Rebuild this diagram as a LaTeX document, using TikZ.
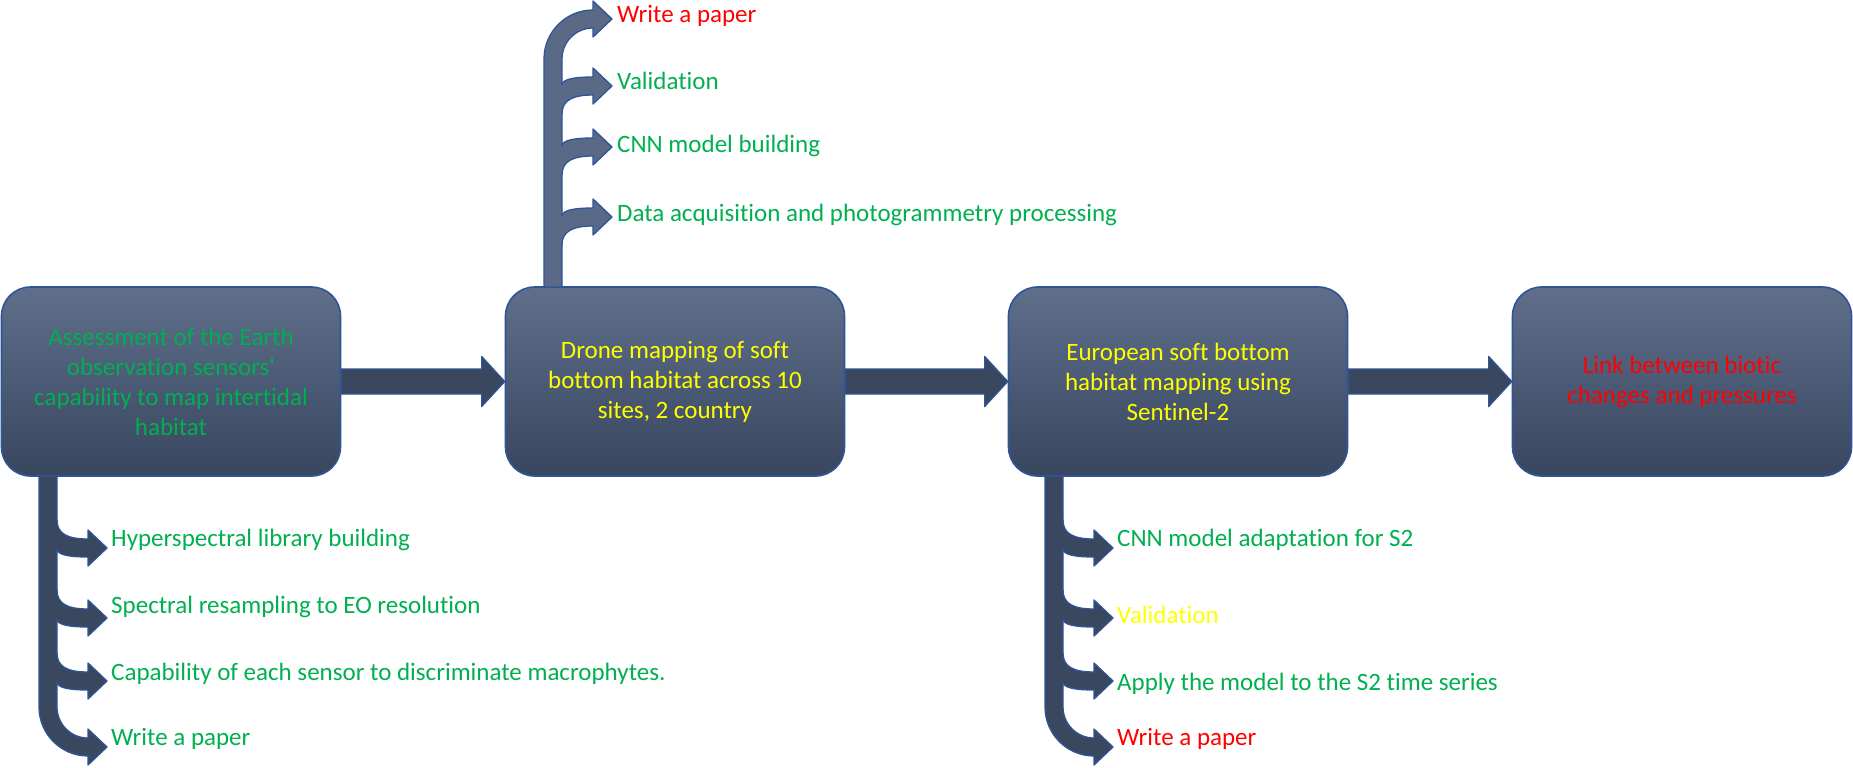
\documentclass[tikz,border=0pt]{standalone}
\usepackage{fontspec}
\setmainfont{Carlito}[Ligatures={TeX,NoCommon}]
\usetikzlibrary{calc}
\definecolor{gtxt}{HTML}{00B050}
\definecolor{ytxt}{HTML}{FFFF00}
\definecolor{rtxt}{HTML}{FF0000}
\definecolor{edgec}{HTML}{2F5597}
\definecolor{boxtop}{HTML}{5F6F8B}
\definecolor{boxbot}{HTML}{38465F}
\definecolor{darkarrow}{HTML}{39475F}
\definecolor{lightarrow}{HTML}{5A6A86}
\tikzset{
  stagebox/.style={draw=edgec, line width=1.6pt, rounded corners=29pt,
    minimum width=339pt, minimum height=189pt, top color=boxtop,
    bottom color=boxbot, align=center, inner sep=0pt,
    font=\fontsize{25}{30}\selectfont},
  lbl/.style={anchor=base west, inner sep=0pt, font=\fontsize{25}{30}\selectfont},
  edgeline/.style={draw=edgec, line width=1.3pt, line join=round},
  harrow/.style={fill=darkarrow, edgeline},
}
% #1 stem right x, #2 tip y, #3 fill colour
\newcommand\dnbranch[3]{%
  \fill[#3] ({#1-6},{#2-28}) -- (#1,{#2-28}) .. controls (#1,{#2-14}) and ({#1+11},{#2-9}) .. ({#1+31},{#2-9})
    -- ({#1+31},{#2-18}) -- ({#1+50},#2) -- ({#1+31},{#2+18}) -- ({#1+31},{#2+9})
    .. controls ({#1+13},{#2+9}) and (#1,{#2+7}) .. (#1,{#2+1}) -- ({#1-6},{#2+1}) -- cycle;
  \draw[edgeline] (#1,{#2-28}) .. controls (#1,{#2-14}) and ({#1+11},{#2-9}) .. ({#1+31},{#2-9})
    -- ({#1+31},{#2-18}) -- ({#1+50},#2) -- ({#1+31},{#2+18}) -- ({#1+31},{#2+9})
    .. controls ({#1+13},{#2+9}) and (#1,{#2+7}) .. (#1,{#2+1});}
\newcommand\upbranch[3]{%
  \fill[#3] ({#1-6},{#2+28}) -- (#1,{#2+28}) .. controls (#1,{#2+14}) and ({#1+11},{#2+9}) .. ({#1+31},{#2+9})
    -- ({#1+31},{#2+18}) -- ({#1+50},#2) -- ({#1+31},{#2-18}) -- ({#1+31},{#2-9})
    .. controls ({#1+13},{#2-9}) and (#1,{#2-7}) .. (#1,{#2-1}) -- ({#1-6},{#2-1}) -- cycle;
  \draw[edgeline] (#1,{#2+28}) .. controls (#1,{#2+14}) and ({#1+11},{#2+9}) .. ({#1+31},{#2+9})
    -- ({#1+31},{#2+18}) -- ({#1+50},#2) -- ({#1+31},{#2-18}) -- ({#1+31},{#2-9})
    .. controls ({#1+13},{#2-9}) and (#1,{#2-7}) .. (#1,{#2-1});}
% #1 stem right x, #2 stem start y, #3 final tip y, #4 fill colour
\newcommand\dnstem[4]{%
  \filldraw[fill=#4, edgeline] ({#1-18},#2) -- ({#1-18},{#3-40})
    .. controls ({#1-18},{#3-13}) and ({#1+4},{#3+9}) .. ({#1+31},{#3+9})
    -- ({#1+31},{#3+18}) -- ({#1+50},#3) -- ({#1+31},{#3-18}) -- ({#1+31},{#3-9})
    .. controls ({#1+13.9},{#3-9}) and (#1,{#3-22.9}) .. (#1,{#3-40}) -- (#1,#2) -- cycle;}
\newcommand\upstem[4]{%
  \filldraw[fill=#4, edgeline] ({#1-18},#2) -- ({#1-18},{#3+40})
    .. controls ({#1-18},{#3+13}) and ({#1+4},{#3-9}) .. ({#1+31},{#3-9})
    -- ({#1+31},{#3-18}) -- ({#1+50},#3) -- ({#1+31},{#3+18}) -- ({#1+31},{#3+9})
    .. controls ({#1+13.9},{#3+9}) and (#1,{#3+22.9}) .. (#1,{#3+40}) -- (#1,#2) -- cycle;}
\begin{document}
\begin{tikzpicture}[x=1pt,y=-1pt]
\fill[white] (0,0) rectangle (1853,768);
\useasboundingbox (0,0) rectangle (1853,768);

% stage boxes
\node[stagebox, text=gtxt] (b1) at (171,381.5) {Assessment of the Earth\\observation sensors\textquotesingle\\capability to map intertidal\\habitat};
\node[stagebox, text=ytxt] (b2) at (675,381.5) {Drone mapping of soft\\bottom habitat across 10\\sites, 2 country};
\node[stagebox, text=ytxt] (b3) at (1178,381.5) {European soft bottom\\habitat mapping using\\Sentinel-2};
\node[stagebox, text=rtxt] (b4) at (1682,381.5) {Link between biotic\\changes and pressures};

% horizontal arrows
\foreach \a/\b in {b1/b2,b2/b3,b3/b4}{
  \draw[harrow] ($(\a.east)+(0,-12.5)$) -- ($(\b.west)+(-23,-12.5)$) -- ($(\b.west)+(-23,-25)$)
    -- (\b.west) -- ($(\b.west)+(-23,25)$) -- ($(\b.west)+(-23,12.5)$) -- ($(\a.east)+(0,12.5)$) -- cycle;
}

% top branch system from box 2
\upstem{562}{287}{19}{lightarrow}
\upbranch{562}{86}{lightarrow}
\upbranch{562}{147}{lightarrow}
\upbranch{562}{217}{lightarrow}
\node[lbl, text=rtxt] (u1) at (617,23) {Write a paper};
\node[lbl, text=gtxt] (u2) at (617,89) {Validation};
\node[lbl, text=gtxt] (u3) at (617,152) {CNN model building};
\node[lbl, text=gtxt] (u4) at (617,221) {Data acquisition and photogrammetry processing};

% bottom branch system from box 1
\dnstem{57}{476}{747}{darkarrow}
\dnbranch{57}{548}{darkarrow}
\dnbranch{57}{618}{darkarrow}
\dnbranch{57}{681}{darkarrow}
\node[lbl, text=gtxt] (l1) at (111,546) {Hyperspectral library building};
\node[lbl, text=gtxt] (l2) at (111,613) {Spectral resampling to EO resolution};
\node[lbl, text=gtxt] (l3) at (111,680) {Capability of each sensor to discriminate macrophytes.};
\node[lbl, text=gtxt] (l4) at (111,745) {Write a paper};

% bottom branch system from box 3
\dnstem{1063}{476}{747}{darkarrow}
\dnbranch{1063}{548}{darkarrow}
\dnbranch{1063}{618}{darkarrow}
\dnbranch{1063}{681}{darkarrow}
\node[lbl, text=gtxt] (r1) at (1117,546) {CNN model adaptation for S2};
\node[lbl, text=ytxt] (r2) at (1117,623) {Validation};
\node[lbl, text=gtxt] (r3) at (1117,690) {Apply the model to the S2 time series};
\node[lbl, text=rtxt] (r4) at (1117,745) {Write a paper};
\end{tikzpicture}
\end{document}
